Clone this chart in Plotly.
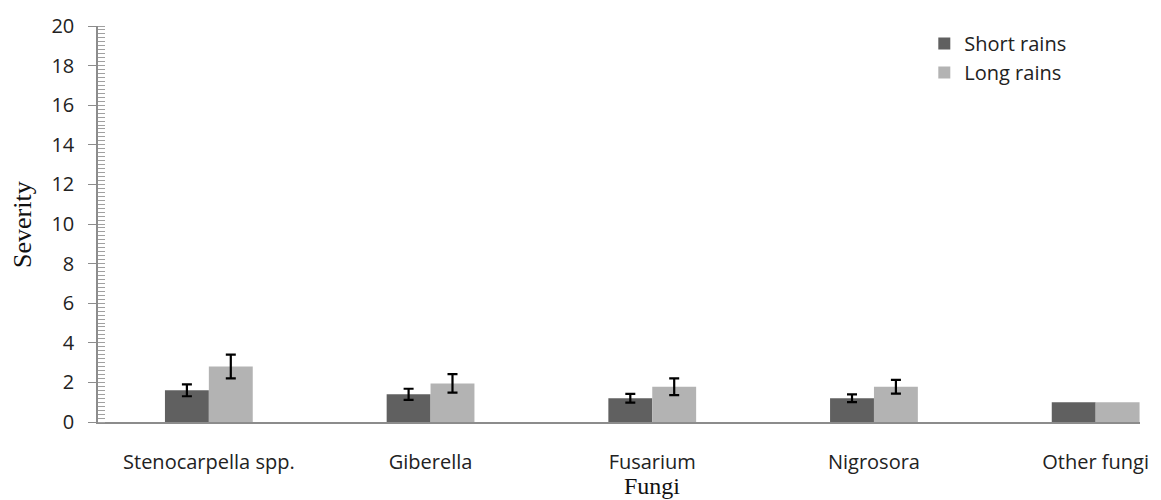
import plotly.graph_objects as go

# Fungal ear-rot severity by season
fungi = ["Stenocarpella spp.", "Giberella", "Fusarium", "Nigrosora", "Other fungi"]
short_rains = [1.6, 1.4, 1.2, 1.2, 1.0]
long_rains = [2.8, 1.95, 1.78, 1.78, 1.0]
# standard errors are only reported for the four named genera
err_fungi = fungi[:4]
short_err = [0.3, 0.28, 0.22, 0.2]
long_err = [0.6, 0.47, 0.42, 0.35]
y_ticks = list(range(0, 21, 2))

label_font = dict(family="Open Sans, Noto Sans, sans-serif", size=20, color="#222222")
serif = dict(family="Liberation Serif, Times New Roman, serif", size=26, color="#111111")
colors = {"Short rains": "#606060", "Long rains": "#b3b3b3"}

fig = go.Figure()
for name, vals, grp in [("Short rains", short_rains, "s"), ("Long rains", long_rains, "l")]:
    fig.add_trace(go.Bar(
        name=name, x=fungi, y=vals, offsetgroup=grp,
        marker=dict(color=colors[name], line=dict(width=0)),
    ))

# error bars drawn on transparent bars sharing each series' offset group
for vals, errs, grp in [(short_rains, short_err, "s"), (long_rains, long_err, "l")]:
    fig.add_trace(go.Bar(
        x=err_fungi, y=vals[:4], offsetgroup=grp, showlegend=False, hoverinfo="skip",
        marker=dict(color="rgba(0,0,0,0)", line=dict(width=0)),
        error_y=dict(type="data", array=errs, color="black", thickness=2.2, width=5),
    ))

fig.update_layout(
    width=1161, height=500,
    margin=dict(l=98, r=19, t=25, b=78),
    plot_bgcolor="white", paper_bgcolor="white",
    barmode="group", bargap=0.604, bargroupgap=0,
    font=label_font,
    showlegend=True,
    legend=dict(x=0.793, y=1.005, xanchor="left", yanchor="top",
                font=label_font, bgcolor="rgba(0,0,0,0)",
                itemwidth=30, tracegroupgap=0),
)

fig.update_xaxes(
    range=[-0.5, 4.2], showline=True, linecolor="#8c8c8c", linewidth=1.5,
    ticks="", showgrid=False, tickfont=label_font, ticklabelstandoff=21,
)
fig.update_yaxes(
    range=[0, 20], tickvals=y_ticks, showline=True, linecolor="#8c8c8c", linewidth=1.5,
    ticks="outside", ticklen=8, tickcolor="#8c8c8c", showgrid=False, zeroline=False,
    tickfont=label_font, ticklabelstandoff=10,
    minor=dict(dtick=0.2, ticks="inside", ticklen=7, tickcolor="#a0a0a0", tickwidth=1, showgrid=False),
)

fig.add_annotation(text="Severity", xref="paper", yref="paper", x=-0.073, y=0.5,
                   xanchor="center", yanchor="middle", textangle=-90, showarrow=False,
                   font=serif)
fig.add_annotation(text="Fungi", xref="x", yref="paper", x=2, y=0, yshift=-78,
                   xanchor="center", yanchor="bottom", showarrow=False,
                   font=dict(serif, size=24), borderpad=0)

fig.write_html("out.html")
